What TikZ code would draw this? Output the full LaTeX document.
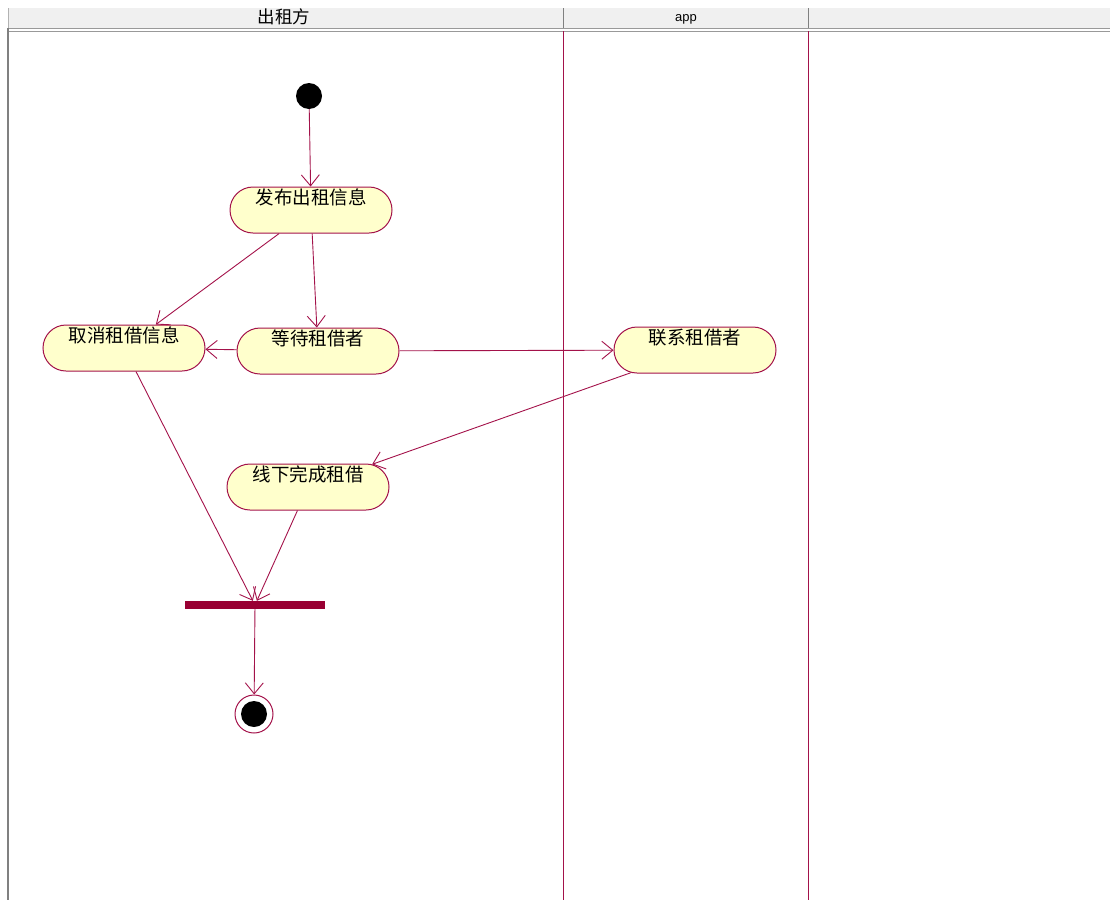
\documentclass[tikz,border=0pt]{standalone}
\usepackage{fontspec}
\setmainfont{Liberation Sans}
\newfontfamily\cjk{Noto Sans CJK SC}
\usetikzlibrary{arrows.meta,shapes.misc}
\definecolor{umlred}{HTML}{990033}
\definecolor{umlline}{HTML}{A3124A}
\definecolor{umlfill}{HTML}{FFFFCC}
\definecolor{headgray}{HTML}{F0F0F0}

\tikzset{
  act/.style={rounded rectangle, draw=umlline, fill=umlfill, line width=1pt,
    minimum width=162pt, minimum height=46pt, inner sep=0pt,
    text height=15pt, text depth=27pt, font=\fontsize{18.5pt}{21pt}\selectfont\cjk},
  flow/.style={draw=umlline, line width=0.9pt,
    -{Straight Barb[length=11pt,width=18pt,line width=0.9pt]}},
  lane/.style={draw=umlline, line width=1.2pt}
}

\begin{document}
\begin{tikzpicture}[x=1pt,y=-1pt]
\useasboundingbox (0,0) rectangle (1110,900);

% header of the swimlanes
\fill[headgray] (8,8) rectangle (1110,28);
\draw[gray!60] (8,8) -- (8,28);
\draw[gray] (563,8) -- (563,28);
\draw[gray] (808,8) -- (808,28);
\draw[gray!80] (8,28) -- (1110,28);
\draw[gray!80] (8,31) -- (1110,31);
\draw[gray, line width=2pt] (8,28) -- (8,900);
\node (lessor) at (284,17) {\fontsize{17.5pt}{19pt}\selectfont\cjk 出租方};
\node (applane) at (686,19) {\fontsize{13pt}{15pt}\selectfont app};

% lanes
\draw[lane] (563.5,31) -- (563.5,900);
\draw[lane] (808.5,31) -- (808.5,900);

% states
\node[circle, fill=black, minimum size=26pt, inner sep=0pt] (start) at (309,96) {};
\node[act] (post) at (311,210) {发布出租信息};
\node[act] (cancel) at (124,348) {取消租借信息};
\node[act] (wait) at (318,351) {等待租借者};
\node[act] (contact) at (695,350) {联系租借者};
\node[act] (offline) at (308,487) {线下完成租借};
\node[rectangle, fill=umlred, minimum width=140pt, minimum height=8pt, inner sep=0pt] (join) at (255,605) {};
\node[circle, draw=umlline, line width=1pt, minimum size=38pt, inner sep=0pt,
  path picture={\fill[black] (path picture bounding box.center) circle (13pt);}] (stop) at (254,714) {};

% transitions
\draw[flow] (start) -- (post);
\draw[flow] (post) -- (cancel);
\draw[flow] (post) -- (wait);
\draw[flow] (wait) -- (cancel);
\draw[flow] (wait) -- (contact);
\draw[flow] (contact) -- (offline);
\draw[flow] (cancel) -- (join);
\draw[flow] (offline) -- (join);
\draw[flow] (join) -- (stop);
\end{tikzpicture}
\end{document}
